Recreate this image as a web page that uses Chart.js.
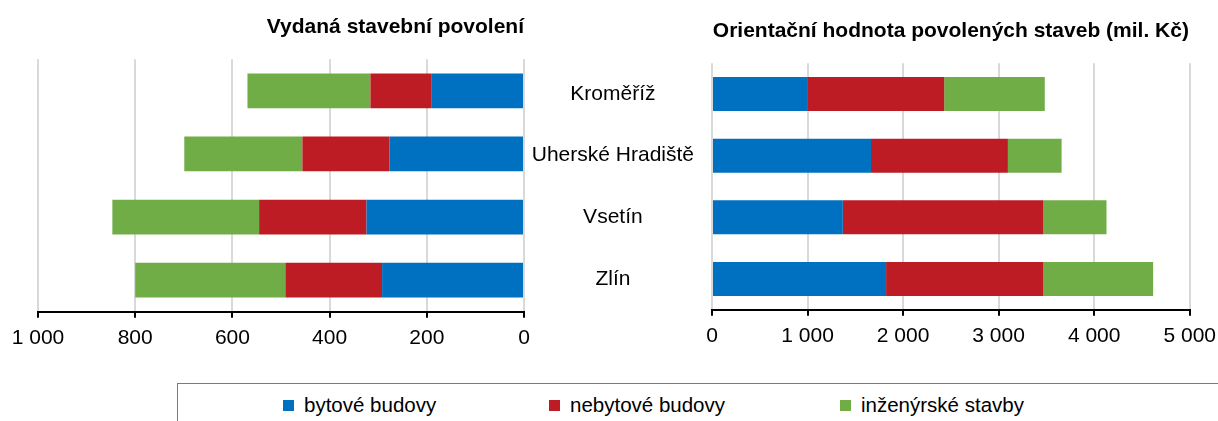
<!DOCTYPE html>
<html lang="cs">
<head>
<meta charset="utf-8">
<title>Stavební povolení</title>
<script src="https://cdn.jsdelivr.net/npm/chart.js@4.4.1/dist/chart.umd.min.js"></script>
<style>
  body {
    margin: 0;
    width: 1218px;
    height: 421px;
    overflow: hidden;
    position: relative;
    background: #fff;
    font-family: "Liberation Sans", Arial, sans-serif;
  }
  #permitsCanvas { position: absolute; left: 0; top: 0; }
  #valueCanvas { position: absolute; left: 524px; top: 0; }
  #legend {
    position: absolute;
    left: 177px;
    top: 383px;
    width: 1100px;
    height: 80px;
    border: 1.5px solid #7a7a7a;
  }
  .legend-item {
    position: absolute;
    top: 9px;
    font-size: 20.5px;
    line-height: 24px;
    color: #000;
    white-space: nowrap;
  }
  .legend-item span {
    display: inline-block;
    width: 11px;
    height: 11px;
    margin-right: 10px;
    vertical-align: 1px;
  }
</style>
</head>
<body>
<canvas id="permitsCanvas" width="540" height="359"></canvas>
<canvas id="valueCanvas" width="700" height="357"></canvas>
<div id="legend"></div>

<script>
// Districts (top to bottom)
const districts = ['Kroměříž', 'Uherské Hradiště', 'Vsetín', 'Zlín'];

// Series names and colours
const seriesNames = ['bytové budovy', 'nebytové budovy', 'inženýrské stavby'];
const seriesColors = ['#0070c0', '#be1c24', '#70ad47'];

// Vydaná stavební povolení (count)
const permitsResidential = [191, 277, 324, 292];
const permitsNonResidential = [125, 179, 221, 199];
const permitsEngineering = [253, 243, 302, 309];

// Orientační hodnota povolených staveb (mil. Kč)
const valueResidential = [1004, 1664, 1369, 1822];
const valueNonResidential = [1426, 1433, 2100, 1647];
const valueEngineering = [1053, 562, 660, 1148];

// Axis ticks
const permitsTicks = [0, 200, 400, 600, 800, 1000];
const valueTicks = [0, 1000, 2000, 3000, 4000, 5000];

const FONT = '"Liberation Sans", Arial, sans-serif';

// thousands with a space, e.g. 1 000
function formatNumber(v) {
  return String(v).replace(/\B(?=(\d{3})+(?!\d))/g, '\u00a0');
}

function makeDatasets(values) {
  return values.map((data, i) => ({
    label: seriesNames[i],
    data: data,
    backgroundColor: seriesColors[i],
    borderWidth: 0,
    categoryPercentage: 0.55,
    barPercentage: 1
  }));
}

function xAxis(ticks, reverse, labelPadding) {
  return {
    stacked: true,
    reverse: reverse,
    min: ticks[0],
    max: ticks[ticks.length - 1],
    afterBuildTicks: (scale) => {
      scale.ticks = ticks.map(v => ({ value: v }));
    },
    ticks: {
      color: '#000',
      font: { family: FONT, size: 21 },
      padding: labelPadding,
      maxRotation: 0,
      callback: (v) => formatNumber(v)
    },
    grid: {
      color: '#d9d9d9',
      lineWidth: 2,
      tickColor: '#000',
      tickWidth: 2,
      tickLength: 6
    },
    border: { color: '#000', width: 2 }
  };
}

Chart.defaults.font.family = FONT;
Chart.defaults.color = '#000';

// Left chart - number of permits, axis runs right to left
const permitsChart = new Chart(document.getElementById('permitsCanvas'), {
  type: 'bar',
  data: {
    labels: districts,
    datasets: makeDatasets([permitsResidential, permitsNonResidential, permitsEngineering])
  },
  options: {
    indexAxis: 'y',
    responsive: false,
    animation: false,
    layout: { autoPadding: false, padding: { left: 38, right: 16, top: 0, bottom: 0 } },
    plugins: {
      legend: { display: false },
      tooltip: { enabled: false },
      title: {
        display: true,
        text: 'Vydaná stavební povolení',
        align: 'end',
        color: '#000',
        font: { family: FONT, size: 21, weight: 'bold' },
        padding: { top: 15, bottom: 19 }
      }
    },
    scales: {
      x: xAxis(permitsTicks, true, 8),
      y: { stacked: true, display: false }
    }
  }
});

// Right chart - value in mil. Kč, district names on its y axis
const valueChart = new Chart(document.getElementById('valueCanvas'), {
  type: 'bar',
  data: {
    labels: districts,
    datasets: makeDatasets([valueResidential, valueNonResidential, valueEngineering])
  },
  options: {
    indexAxis: 'y',
    responsive: false,
    animation: false,
    layout: { autoPadding: false, padding: { left: 0, right: 27, top: 0, bottom: 0 } },
    plugins: {
      legend: { display: false },
      tooltip: { enabled: false },
      title: {
        display: true,
        fullSize: false,
        text: 'Orientační hodnota povolených staveb (mil. Kč)',
        align: 'center',
        color: '#000',
        font: { family: FONT, size: 21, weight: 'bold' },
        padding: { top: 19, bottom: 19 }
      }
    },
    scales: {
      x: xAxis(valueTicks, false, 8),
      y: {
        stacked: true,
        afterFit: (scale) => { scale.width = 188; },
        grid: { display: false, drawTicks: false },
        border: { display: false },
        ticks: {
          color: '#000',
          font: { family: FONT, size: 21 },
          padding: 18,
          crossAlign: 'center'
        }
      }
    }
  }
});

// Legend in a framed box under both charts
const legendBox = document.getElementById('legend');
const legendLeft = [105, 371, 662];
seriesNames.forEach((name, i) => {
  const item = document.createElement('div');
  item.className = 'legend-item';
  item.style.left = legendLeft[i] + 'px';
  item.innerHTML = '<span style="background:' + seriesColors[i] + '"></span>' + name;
  legendBox.appendChild(item);
});
</script>
</body>
</html>
